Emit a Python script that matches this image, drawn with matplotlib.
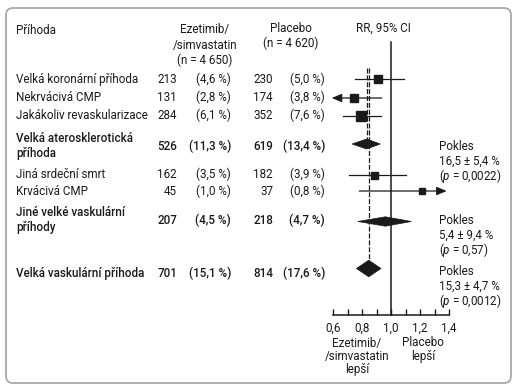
import numpy as np
import matplotlib
matplotlib.use('Agg')
import matplotlib.pyplot as plt
from matplotlib.patches import Polygon, FancyBboxPatch

plt.rcParams['font.family'] = ['Roboto', 'DejaVu Sans']
plt.rcParams['mathtext.fontset'] = 'custom'
plt.rcParams['mathtext.it'] = 'Roboto:italic'
plt.rcParams['mathtext.rm'] = 'Roboto'

# data
labels = ['Velká koronární příhoda', 'Nekrvácivá CMP', 'Jakákoliv revaskularizace',
          'Velká aterosklerotická\npříhoda', 'Jiná srdeční smrt', 'Krvácivá CMP',
          'Jiné velké vaskulární\npříhody', 'Velká vaskulární příhoda']
eze_n = [213, 131, 284, 526, 162, 45, 207, 701]
eze_pct = ['4,6', '2,8', '6,1', '11,3', '3,5', '1,0', '4,5', '15,1']
pla_n = [230, 174, 352, 619, 182, 37, 218, 814]
pla_pct = ['5,0', '3,8', '7,6', '13,4', '3,9', '0,8', '4,7', '17,6']
rr = [0.91, 0.74, 0.79, 0.83, 0.88, 1.21, 0.96, 0.845]
rr_lo = [0.75, 0.55, 0.67, 0.73, 0.71, 0.78, 0.77, 0.76]
rr_hi = [1.09, 0.935, 0.93, 0.925, 1.10, 1.60, 1.14, 0.93]
summary = [False, False, False, True, False, False, True, True]
pokles = {3: ('16,5 ± 5,4 %', '0,0022'), 6: ('5,4 ± 9,4 %', '0,57'), 7: ('15,3 ± 4,7 %', '0,0012')}
ticks = [0.6, 0.7, 0.8, 0.9, 1.0, 1.1, 1.2, 1.3, 1.4]

# layout (pixel rows)
text_y = [79.5, 97.5, 115.5, 146, 174.5, 191.5, 220, 273.5]
mark_y = [79, 98, 116, 144, 174.5, 191, 221.5, 268.5]
sq_px = [8.3, 7.7, 10, 0, 7, 6, 0, 0]
dia_h = [0, 0, 0, 5, 0, 0, 4.7, 8.3]
xmin_draw, xmax_draw = 0.589, 1.384
fs = 8.4
col = '#1a1a1a'

fig = plt.figure(figsize=(5.2, 3.9), dpi=100)
bg = fig.add_axes([0, 0, 1, 1])
bg.set_xlim(0, 520)
bg.set_ylim(390, 0)
bg.axis('off')

bg.add_patch(FancyBboxPatch((6, 8), 505, 375, boxstyle='round,pad=0,rounding_size=7',
                            fc='none', ec='#a8a8a8', lw=1.3))

# header
bg.text(16, 30, 'Příhoda', fontsize=fs, color=col, va='center', ha='left')
for i, s in enumerate(['Ezetimib/', '/simvastatin', '(n = 4 650)']):
    bg.text(205, 30 + 15 * i, s, fontsize=fs, color=col, va='center', ha='center')
for i, s in enumerate(['Placebo', '(n = 4 620)']):
    bg.text(291, 28 + 15 * i, s, fontsize=fs, color=col, va='center', ha='center')
bg.text(383, 28, 'RR, 95% CI', fontsize=fs, color=col, va='center', ha='center')

for i, lab in enumerate(labels):
    w = 'medium' if summary[i] else 'normal'
    y = text_y[i]
    bg.text(16, y, lab, fontsize=fs, color=col, va='center', ha='left',
            fontweight=w, linespacing=1.3)
    bg.text(177, y, str(eze_n[i]), fontsize=fs, color=col, va='center', ha='right', fontweight=w)
    bg.text(231, y, '(%s %%)' % eze_pct[i], fontsize=fs, color=col, va='center', ha='right', fontweight=w)
    bg.text(273, y, str(pla_n[i]), fontsize=fs, color=col, va='center', ha='right', fontweight=w)
    bg.text(325, y, '(%s %%)' % pla_pct[i], fontsize=fs, color=col, va='center', ha='right', fontweight=w)

for i, (red, p) in pokles.items():
    y0 = text_y[i] + 1 if i != 7 else mark_y[i] + 3
    bg.text(439, y0, 'Pokles', fontsize=fs, color=col, va='center', ha='left')
    bg.text(439, y0 + 14.5, red, fontsize=fs, color=col, va='center', ha='left')
    bg.text(439, y0 + 29, '($p$ = %s)' % p, fontsize=fs, color=col, va='center', ha='left')

# bottom captions
for i, s in enumerate(['Ezetimib/', '/simvastatin', 'lepší']):
    bg.text(357, 343 + 13.5 * i, s, fontsize=fs, color=col, va='center', ha='center')
for i, s in enumerate(['Placebo', 'lepší']):
    bg.text(423, 343 + 13.5 * i, s, fontsize=fs, color=col, va='center', ha='center')

# forest plot
ax = fig.add_axes([333.3 / 520, (390 - 315) / 390, 115.7 / 520, 295 / 390])
ax.set_xlim(0.6, 1.4)
ax.set_ylim(315, 20)
ax.patch.set_alpha(0)
for s in ['top', 'right', 'left']:
    ax.spines[s].set_visible(False)
ax.spines['bottom'].set_linewidth(1.1)
ax.spines['bottom'].set_color(col)
ax.set_yticks([])
ax.set_xticks(ticks)
ax.set_xticklabels([('%.1f' % t).replace('.', ',') if k % 2 == 0 else '' for k, t in enumerate(ticks)])
ax.tick_params(axis='x', direction='in', length=4, width=1, pad=5, labelsize=fs, colors=col)

ax.plot([1.0, 1.0], [41.7, 315], color=col, lw=1.1, clip_on=False)
ax.plot([rr[3], rr[3]], [68, mark_y[3] - dia_h[3]], color=col, lw=0.9, ls=(0, (4, 1.5)), clip_on=False)
ax.plot([rr[7], rr[7]], [68, mark_y[7] - dia_h[7]], color=col, lw=0.9, ls=(0, (4, 1.5)), clip_on=False)

for i in range(len(labels)):
    y = mark_y[i]
    if summary[i]:
        ax.add_patch(Polygon([(rr_lo[i], y), (rr[i], y - dia_h[i]), (rr_hi[i], y), (rr[i], y + dia_h[i])],
                             closed=True, fc=col, ec=col, lw=0.5, clip_on=False, zorder=3))
        continue
    lo, hi = rr_lo[i], rr_hi[i]
    if lo < 0.6:
        ax.annotate('', xy=(xmin_draw, y), xytext=(hi, y),
                    arrowprops=dict(arrowstyle='-|>,head_length=0.6,head_width=0.25', color=col, lw=0.9,
                                    shrinkA=0, shrinkB=0), annotation_clip=False)
    elif hi > 1.4:
        ax.annotate('', xy=(xmax_draw, y), xytext=(lo, y),
                    arrowprops=dict(arrowstyle='-|>,head_length=0.6,head_width=0.25', color=col, lw=0.9,
                                    shrinkA=0, shrinkB=0), annotation_clip=False)
    else:
        ax.plot([lo, hi], [y, y], color=col, lw=0.9, clip_on=False)
    ax.plot(rr[i], y, marker='s', ms=sq_px[i] * 0.72, color=col, mec=col, clip_on=False, zorder=3)

fig.savefig('out.png', dpi=100)
